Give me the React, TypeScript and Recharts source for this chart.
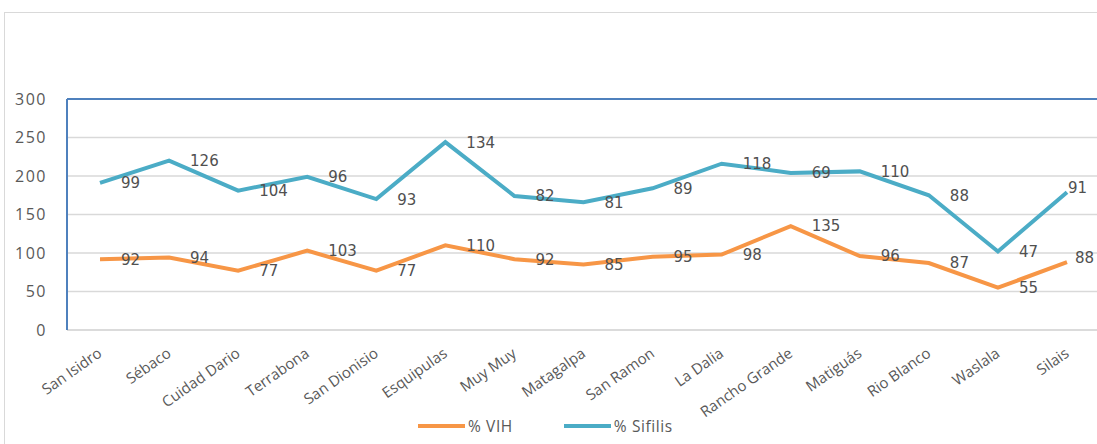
import { ComposedChart, Area, XAxis, YAxis, CartesianGrid, ReferenceLine, LabelList } from "recharts"

const municipios = [
  "San Isidro",
  "Sébaco",
  "Cuidad Dario",
  "Terrabona",
  "San Dionisio",
  "Esquipulas",
  "Muy Muy",
  "Matagalpa",
  "San Ramon",
  "La Dalia",
  "Rancho Grande",
  "Matiguás",
  "Rio Blanco",
  "Waslala",
  "Silais",
]
const vih = [92, 94, 77, 103, 77, 110, 92, 85, 95, 98, 135, 96, 87, 55, 88]
const sifilis = [99, 126, 104, 96, 93, 134, 82, 81, 89, 118, 69, 110, 88, 47, 91]
const yTicks = [0, 50, 100, 150, 200, 250, 300]

const data = municipios.map((name, i) => ({ name, vih: vih[i], sifilis: sifilis[i] }))

const ORANGE = "#f79646"
const TEAL = "#4bacc6"
const AXIS_BLUE = "#4f81bd"
const TEXT = "#595959"

// Excel style label: right of the point, vertically centred.
// The last point's label is pulled in so it stays inside the chart.
function makeLabel(values: number[], lastDx: number) {
  return (props: any) => {
    const { x, y, index } = props
    const last = index === values.length - 1
    return (
      <text
        x={x + (last ? lastDx : 21)}
        y={y + (last ? -5 : 0)}
        dy="0.36em"
        fontFamily="DejaVu Sans, Verdana, sans-serif"
        fontSize={15}
        fill="#505050"
      >
        {values[index]}
      </text>
    )
  }
}

function RotatedTick(props: any) {
  const { x, y, payload } = props
  return (
    <g transform={`translate(${x - 3},${y + 9})`}>
      <text
        x={0}
        y={0}
        dy="0.7em"
        textAnchor="end"
        transform="rotate(-35)"
        fontFamily="Open Sans, sans-serif"
        fontSize={15}
        fill={TEXT}
      >
        {payload.value}
      </text>
    </g>
  )
}

export default function App() {
  return (
    <div
      style={{
        position: "absolute",
        left: 0,
        top: 0,
        width: 1097,
        height: 444,
        overflow: "hidden",
        background: "#fff",
      }}
    >
      {/* chart frame */}
      <div
        style={{
          position: "absolute",
          left: 4,
          top: 12,
          width: 1200,
          height: 600,
          border: "1px solid #d9d9d9",
        }}
      />
      <div style={{ position: "absolute", left: 0, top: 0 }}>
        <ComposedChart
          width={1097}
          height={444}
          data={data}
          margin={{ top: 99, right: 0, left: 0, bottom: 34 }}
        >
          <CartesianGrid vertical={false} stroke="#d9d9d9" strokeWidth={1.5} />
          <XAxis
            dataKey="name"
            interval={0}
            padding={{ left: 33, right: 30 }}
            axisLine={{ stroke: "#d9d9d9", strokeWidth: 1.5 }}
            tickLine={false}
            height={80}
            tick={<RotatedTick />}
          />
          <YAxis
            domain={[0, 300]}
            ticks={yTicks}
            width={67}
            axisLine={{ stroke: AXIS_BLUE, strokeWidth: 2 }}
            tickLine={false}
            tickSize={0}
            tickMargin={20}
            tick={{
              fontFamily: "Open Sans, sans-serif",
              fontSize: 16,
              letterSpacing: 1.5,
              fill: TEXT,
            }}
          />
          <ReferenceLine y={300} stroke={AXIS_BLUE} strokeWidth={2} />
          <Area
            type="linear"
            dataKey="vih"
            stackId="a"
            stroke={ORANGE}
            strokeWidth={4}
            fill="none"
            fillOpacity={0}
            dot={false}
            activeDot={false}
            isAnimationActive={false}
          >
            <LabelList dataKey="vih" content={makeLabel(vih, 8)} />
          </Area>
          <Area
            type="linear"
            dataKey="sifilis"
            stackId="a"
            stroke={TEAL}
            strokeWidth={4}
            fill="none"
            fillOpacity={0}
            dot={false}
            activeDot={false}
            isAnimationActive={false}
          >
            <LabelList dataKey="sifilis" content={makeLabel(sifilis, 1)} />
          </Area>
        </ComposedChart>
      </div>
      {/* legend */}
      <div
        style={{
          position: "absolute",
          top: 415,
          left: 418,
          display: "flex",
          alignItems: "center",
          fontFamily: "Open Sans, sans-serif",
          fontSize: 15.5,
          letterSpacing: 0.6,
          color: TEXT,
        }}
      >
        <span style={{ display: "inline-block", width: 47, height: 4, background: ORANGE }} />
        <span style={{ marginLeft: 3 }}>% VIH</span>
        <span
          style={{ display: "inline-block", width: 47, height: 4, background: TEAL, marginLeft: 51 }}
        />
        <span style={{ marginLeft: 3 }}>% Sifilis</span>
      </div>
    </div>
  )
}
